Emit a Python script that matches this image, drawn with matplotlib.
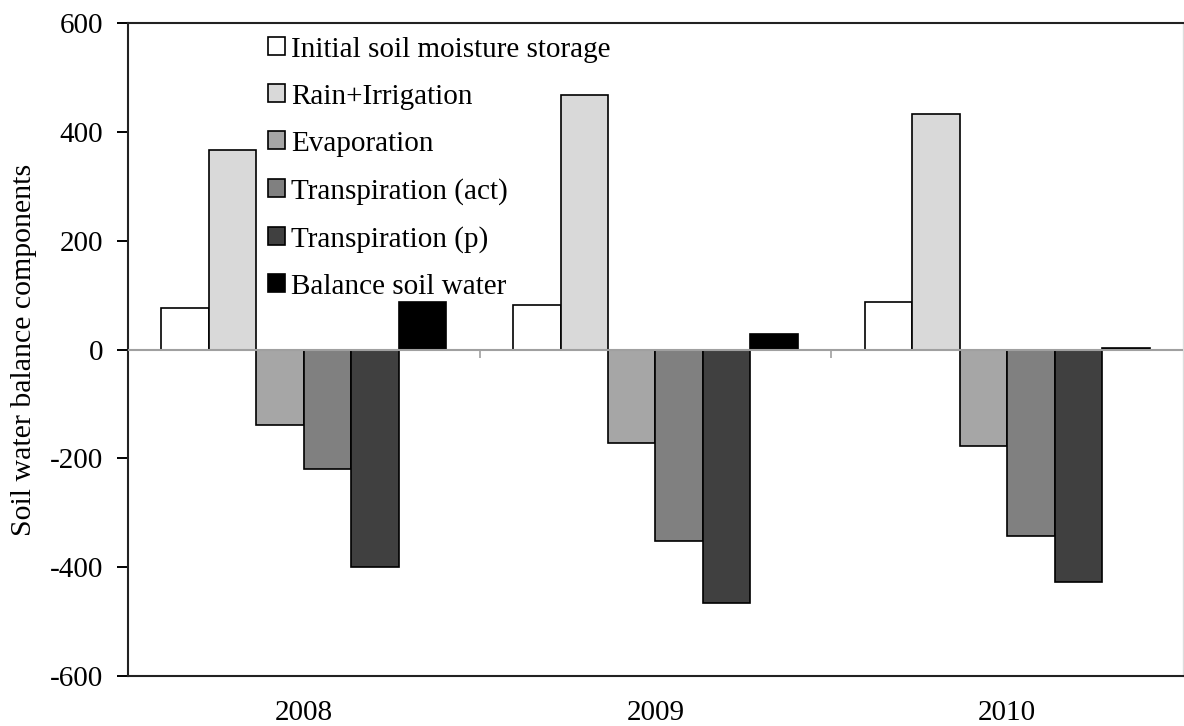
import numpy as np
import matplotlib.pyplot as plt

years = ["2008", "2009", "2010"]
components = ["Initial soil moisture storage", "Rain+Irrigation", "Evaporation",
              "Transpiration (act)", "Transpiration (p)", "Balance soil water"]
initial = [76, 81, 88]
rain_irr = [366, 468, 432]
evaporation = [-138, -171, -178]
transp_act = [-220, -352, -342]
transp_p = [-400, -465, -427]
balance = [87, 29, 2]
colors = ["#ffffff", "#d9d9d9", "#a6a6a6", "#808080", "#404040", "#000000"]

series = [initial, rain_irr, evaporation, transp_act, transp_p, balance]

plt.rcParams['font.family'] = ['Liberation Serif', 'DejaVu Serif']
plt.rcParams['axes.unicode_minus'] = False

fig = plt.figure(figsize=(11.84, 7.26), dpi=100)
ax = fig.add_axes([128 / 1184, 50 / 726, 1055 / 1184, 653 / 726])

x = np.arange(len(years))
w = 0.135
for i, (vals, c, lab) in enumerate(zip(series, colors, components)):
    ax.bar(x + (i - 2.5) * w, vals, w, color=c, edgecolor="black", linewidth=1.2,
           label=lab, zorder=2)

ax.set_xlim(-0.5, 2.5)
ax.set_ylim(-600, 600)
ax.set_yticks(range(-600, 601, 200))
ax.tick_params(axis="y", labelsize=21, length=8, width=1.4, pad=10, direction="out")
ax.set_xticks(x)
ax.set_xticklabels(years)
ax.tick_params(axis="x", labelsize=21, length=0, pad=17)
ax.set_ylabel("Soil water balance components", fontsize=21.5, labelpad=9)

for s in ["left", "bottom", "top"]:
    ax.spines[s].set_linewidth(1.5)
    ax.spines[s].set_color("#222222")
ax.spines["right"].set_color("#dddddd")
ax.spines["right"].set_linewidth(1.0)

# zero line with category separator ticks
ax.axhline(0, color="#a0a0a0", linewidth=1.5, zorder=3)
ax.vlines([0.5, 1.5], -15, 0, color="#a0a0a0", linewidth=1.2, zorder=3)

ax.legend(loc="upper left", bbox_to_anchor=(0.122, 0.997), frameon=False, fontsize=21,
          handlelength=0.58, handleheight=0.58, handletextpad=0.2, labelspacing=0.72,
          borderaxespad=0)

fig.savefig("out.png", dpi=100)
